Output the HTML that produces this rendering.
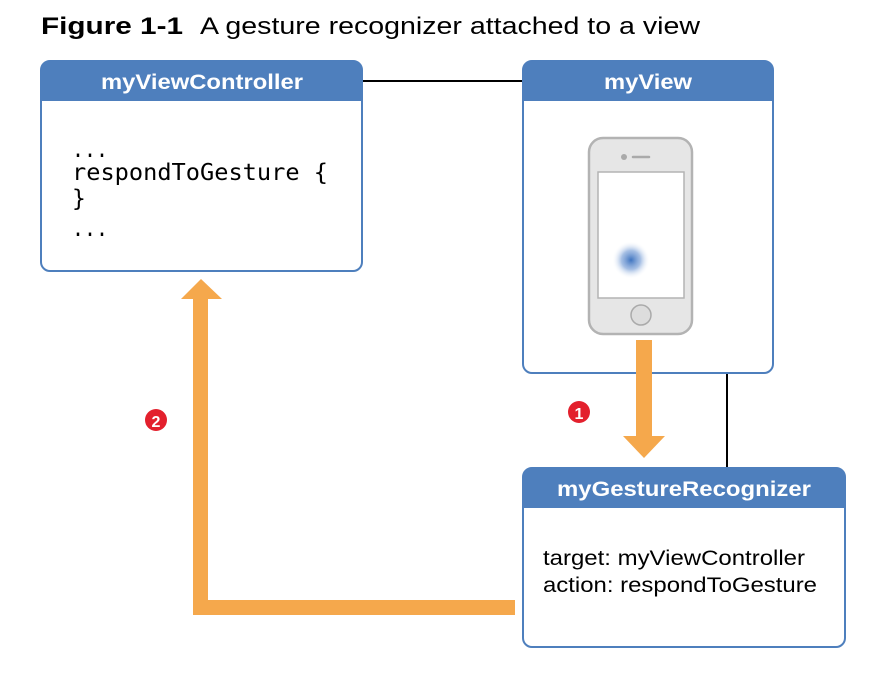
<!DOCTYPE html>
<html><head><meta charset="utf-8"><style>
html,body{margin:0;padding:0;background:#fff;width:876px;height:674px;overflow:hidden}
svg{display:block}
</style></head><body>
<svg width="876" height="674" viewBox="0 0 876 674" xmlns="http://www.w3.org/2000/svg">
<defs>
<radialGradient id="g"><stop offset="0" stop-color="#3f74c0"/><stop offset="0.5" stop-color="#7fa3d8" stop-opacity="0.7"/><stop offset="1" stop-color="#ffffff" stop-opacity="0"/></radialGradient>
</defs>
<text x="41" y="34" font-family="Liberation Sans, sans-serif" font-size="24" font-weight="bold" fill="#000" textLength="142" lengthAdjust="spacingAndGlyphs">Figure 1-1</text>
<text x="200" y="34" font-family="Liberation Sans, sans-serif" font-size="24" fill="#000" textLength="500" lengthAdjust="spacingAndGlyphs">A gesture recognizer attached to a view</text>

<!-- connectors -->
<line x1="362" y1="81" x2="523" y2="81" stroke="#000" stroke-width="2"/>
<line x1="727" y1="373" x2="727" y2="468" stroke="#000" stroke-width="2"/>

<!-- box 1 -->
<rect x="41" y="61" width="321" height="210" rx="9" fill="#fff" stroke="#4e7fbd" stroke-width="2"/>
<path d="M41 101 V70 a9 9 0 0 1 9 -9 H353 a9 9 0 0 1 9 9 V101 Z" fill="#4e7fbd"/>
<text x="101" y="89" font-family="Liberation Sans, sans-serif" font-weight="bold" font-size="21" fill="#fff" textLength="202" lengthAdjust="spacingAndGlyphs">myViewController</text>
<g font-family="DejaVu Sans Mono, Liberation Mono, monospace" font-size="23" fill="#000">
<text x="72" y="157" textLength="36" lengthAdjust="spacingAndGlyphs">...</text>
<text x="72" y="180" textLength="256" lengthAdjust="spacingAndGlyphs">respondToGesture {</text>
<text x="72" y="206">}</text>
<text x="72" y="236" textLength="36" lengthAdjust="spacingAndGlyphs">...</text>
</g>

<!-- box 2 -->
<rect x="523" y="61" width="250" height="312" rx="9" fill="#fff" stroke="#4e7fbd" stroke-width="2"/>
<path d="M523 101 V70 a9 9 0 0 1 9 -9 H764 a9 9 0 0 1 9 9 V101 Z" fill="#4e7fbd"/>
<text x="604" y="89" font-family="Liberation Sans, sans-serif" font-weight="bold" font-size="21" fill="#fff" textLength="88" lengthAdjust="spacingAndGlyphs">myView</text>
<rect x="589" y="138" width="103" height="196" rx="14" fill="#e6e6e6" stroke="#b3b3b3" stroke-width="2.5"/>
<rect x="598" y="172" width="86" height="126" fill="#fff" stroke="#b3b3b3" stroke-width="1.5"/>
<circle cx="624" cy="157" r="3" fill="#aaa"/>
<line x1="633" y1="157" x2="649" y2="157" stroke="#aaa" stroke-width="2.5" stroke-linecap="round"/>
<circle cx="641" cy="315" r="10" fill="#ddd" stroke="#aaa" stroke-width="1.5"/>
<circle cx="631" cy="260" r="19" fill="url(#g)"/>

<!-- box 3 -->
<rect x="523" y="468" width="322" height="179" rx="9" fill="#fff" stroke="#4e7fbd" stroke-width="2"/>
<path d="M523 508 V477 a9 9 0 0 1 9 -9 H836 a9 9 0 0 1 9 9 V508 Z" fill="#4e7fbd"/>
<text x="557" y="496" font-family="Liberation Sans, sans-serif" font-weight="bold" font-size="21" fill="#fff" textLength="254" lengthAdjust="spacingAndGlyphs">myGestureRecognizer</text>
<g font-family="Liberation Sans, sans-serif" font-size="21" fill="#000">
<text x="543" y="565" textLength="262" lengthAdjust="spacingAndGlyphs">target: myViewController</text>
<text x="543" y="592" textLength="274" lengthAdjust="spacingAndGlyphs">action: respondToGesture</text>
</g>

<!-- orange arrows -->
<rect x="636" y="340" width="16" height="96" fill="#f5a84c"/>
<polygon points="623,436 665,436 644,458" fill="#f5a84c"/>
<path d="M515 600 V615 H193 V298 H208 V600 Z" fill="#f5a84c"/>
<polygon points="181,299 222,299 201,279" fill="#f5a84c"/>

<!-- badges -->
<circle cx="579" cy="412" r="11" fill="#e3202d"/>
<text x="579" y="419" text-anchor="middle" font-family="Liberation Sans, sans-serif" font-weight="bold" font-size="16" fill="#fff">1</text>
<circle cx="156" cy="420" r="11" fill="#e3202d"/>
<text x="156" y="427" text-anchor="middle" font-family="Liberation Sans, sans-serif" font-weight="bold" font-size="16" fill="#fff">2</text>
</svg>
</body></html>
